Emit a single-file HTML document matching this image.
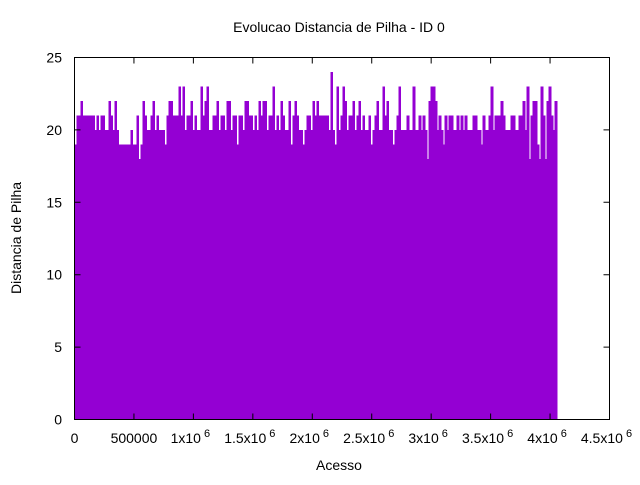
<!DOCTYPE html>
<html><head><meta charset="utf-8"><style>
body{margin:0;background:#fff}
svg text{font-family:"Liberation Sans",sans-serif;font-size:14px;fill:#000}
</style></head><body>
<svg id="chart" width="640" height="480" viewBox="0 0 640 480">
<rect width="640" height="480" fill="#fff"/>
<text x="339" y="32" text-anchor="middle">Evolucao Distancia de Pilha - ID 0</text>
<g id="bars" shape-rendering="crispEdges"></g>
<rect x="74.5" y="57.5" width="535" height="362" fill="none" stroke="#000"/>
<g id="axes"></g>
<text x="339" y="470" text-anchor="middle">Acesso</text>
<text transform="translate(21,238) rotate(-90)" text-anchor="middle">Distancia de Pilha</text>
</svg>
<script>
const values=[19,21,21,22,21,21,21,21,21,21,20,21,20,21,21,20,20,22,21,20,22,20,19,19,19,
19,19,19,20,19,19,21,18,19,22,21,20,20,21,22,20,21,20,20,20,19,21,22,22,21,
21,21,23,21,23,20,21,21,22,20,21,20,20,23,21,22,23,20,20,21,21,22,20,21,21,
20,22,22,20,21,21,19,21,21,20,22,22,21,21,20,21,20,22,21,22,22,20,21,21,23,
20,21,20,22,21,20,20,22,19,21,22,21,20,20,19,20,21,21,20,22,21,22,21,21,21,
21,21,20,24,20,19,23,20,21,23,22,20,21,21,22,20,21,22,20,21,20,20,21,19,20,
21,22,20,20,23,21,22,20,20,19,20,21,23,20,20,20,21,20,20,23,20,20,21,20,21,
20,18,22,23,23,22,20,21,20,19,21,20,21,21,20,20,21,20,21,20,21,20,20,20,21,
21,20,20,19,21,20,20,21,23,20,21,21,21,22,21,20,20,20,21,21,20,20,21,21,22,
20,23,18,21,22,22,19,18,23,21,18,22,23,21,20,22];
const accessStep=16830;
const yTicks=[0,5,10,15,20,25];
const xTicks=[0,500000,1000000,1500000,2000000,2500000,3000000,3500000,4000000,4500000];
const xTickLabels=["0","500000","1x10","1.5x10","2x10","2.5x10","3x10","3.5x10","4x10","4.5x10"];
const X0=74.5,X1=609.5,Y0=419.5,Y1=57.5;
const sx=v=>X0+(v/4500000)*(X1-X0);
const sy=v=>Y0-(v/25)*(Y0-Y1);
const NS="http://www.w3.org/2000/svg";
const bars=document.getElementById('bars');
values.forEach((v,i)=>{
  const x=sx(i*accessStep), w=sx((i+1)*accessStep)-x;
  const r=document.createElementNS(NS,'rect');
  r.setAttribute('x',x);r.setAttribute('y',sy(v));r.setAttribute('width',w+0.6);r.setAttribute('height',sy(0)-sy(v));r.setAttribute('fill','#9400d3');
  
  
  bars.appendChild(r);
});
const ax=document.getElementById('axes');
yTicks.forEach(t=>{
  const y=sy(t);
  const l=document.createElementNS(NS,'path');
  l.setAttribute('d',`M${X0} ${y}h6M${X1} ${y}h-6`);l.setAttribute('stroke','#000');
  
  
  ax.appendChild(l);
  const tx=document.createElementNS(NS,'text');
  tx.setAttribute('x',62);tx.setAttribute('y',y+5);tx.setAttribute('text-anchor','end');tx.textContent=t;
  
  
  ax.appendChild(tx);
});
xTicks.forEach((t,i)=>{
  const x=sx(t);
  const l=document.createElementNS(NS,'path');
  l.setAttribute('d',`M${x} ${Y0}v-6M${x} ${Y1}v6`);l.setAttribute('stroke','#000');
  
  
  ax.appendChild(l);
  const tx=document.createElementNS(NS,'text');
  tx.setAttribute('y',443);tx.setAttribute('text-anchor','middle');
  
  
  tx.setAttribute('x',i<2?x:x-3);
  tx.textContent=xTickLabels[i];
  if(i>=2){const s=document.createElementNS(NS,'tspan');s.setAttribute('dy',-6);s.setAttribute('font-size','11');s.textContent=' 6';tx.appendChild(s);}
  ax.appendChild(tx);
});
</script>
</body></html>
